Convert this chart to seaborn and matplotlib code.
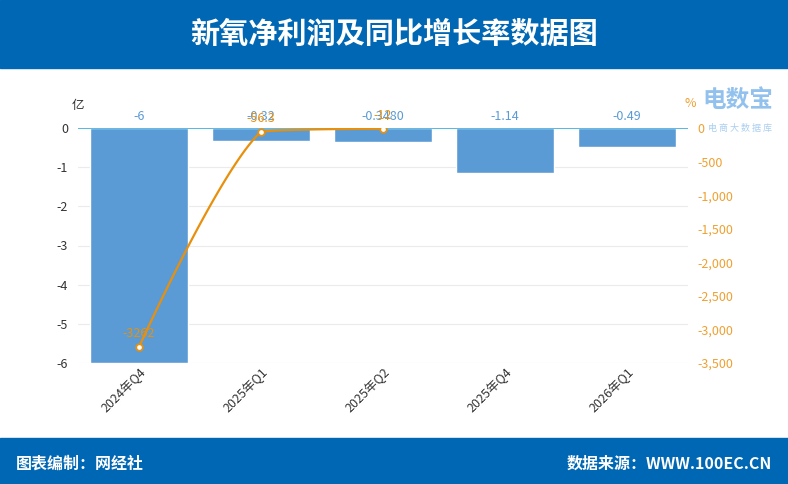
import numpy as np
import pandas as pd
import matplotlib
matplotlib.use("Agg")
import matplotlib.pyplot as plt
import seaborn as sns

# data
quarters = ["2024年Q4", "2025年Q1", "2025年Q2", "2025年Q4", "2026年Q1"]
profit = [-6, -0.32, -0.348, -1.14, -0.49]          # 亿
profit_labels = ["-6", "-0.32", "-0.3480", "-1.14", "-0.49"]
growth = [-3262, -56.3, -12, np.nan, np.nan]        # %
growth_labels = ["-3262", "-56.3", "-12", "", ""]

title = "新氧净利润及同比增长率数据图"
footer_left = "图表编制：网经社"
footer_right = "数据来源：WWW.100EC.CN"

sns.set_theme(style="white")
plt.rcParams["font.family"] = ["Noto Sans CJK SC", "DejaVu Sans"]
plt.rcParams["axes.unicode_minus"] = False

BLUE = "#5b9bd5"
ORANGE = "#e8900c"
HEAD = "#0067b4"

df = pd.DataFrame({"quarter": quarters, "profit": profit, "growth": growth})

fig = plt.figure(figsize=(7.88, 4.84), dpi=100)
# header and footer bands
fig.patches.append(plt.Rectangle((0, 1 - 68 / 484), 1, 68 / 484, transform=fig.transFigure,
                                 color=HEAD, zorder=0))
fig.patches.append(plt.Rectangle((0, 0), 1, 46 / 484, transform=fig.transFigure,
                                 color=HEAD, zorder=0))
fig.text(0.5, 1 - 34 / 484, title, color="white", fontsize=21, fontweight="heavy",
         ha="center", va="center")
fig.text(16 / 788, 20 / 484, footer_left, color="white", fontsize=11.5, fontweight="heavy",
         ha="left", va="center")
fig.text(772 / 788, 20 / 484, footer_right, color="white", fontsize=11.5, fontweight="heavy",
         ha="right", va="center")

# plot area: x 78..688, y 128..363 (pixels from top)
ax = fig.add_axes([78 / 788, 1 - 363 / 484, 610 / 788, 235 / 484])
sns.barplot(data=df, x="quarter", y="profit", color=BLUE, width=0.8, saturation=1,
            ax=ax, zorder=2)
ax.set_ylim(-6, 0)
ax.set_xlim(-0.5, 4.5)
ax.set_yticks(range(-6, 1))
ax.yaxis.grid(True, color="#ebebeb", linewidth=0.8, zorder=0)
ax.set_xlabel("")
ax.set_ylabel("")
for s in ax.spines.values():
    s.set_visible(False)
ax.axhline(0, color="#3fb0e0", linewidth=1.2, zorder=3)
ax.tick_params(axis="y", length=0, labelsize=9, colors="#333333", pad=7)
ax.tick_params(axis="x", length=0, labelsize=9, colors="#333333", pad=2)
plt.setp(ax.get_xticklabels(), rotation=45, ha="right", rotation_mode="anchor")
ax.text(0.0, 1.095, "亿", transform=ax.transAxes, fontsize=9, color="#333333",
        ha="center", va="center")
for i, lab in enumerate(profit_labels):
    ax.text(i, 0.14, lab, color=BLUE, fontsize=9, ha="center", va="bottom", zorder=5)

# growth line on right axis
ax2 = ax.twinx()
gx = np.array([i for i, g in enumerate(growth) if not np.isnan(g)], dtype=float)
gy = np.array([g for g in growth if not np.isnan(g)])

# smooth curve (bezier through the points, in pixel-like space, no overshoot)
smooth = 0.25
sx, sy = 122.0, 235.0 / 3500.0
P = np.column_stack([gx * sx, gy * sy])
n = len(P)
curve = []
for i in range(n - 1):
    p0, p1 = P[i], P[i + 1]
    c0, c1 = p0.copy(), p1.copy()
    if i > 0:
        prev = P[i - 1]
        dp, dn = np.linalg.norm(p0 - prev), np.linalg.norm(p1 - p0)
        c0 = p0 + (p1 - prev) * smooth * dn / (dp + dn)
    if i + 2 < n:
        nxt = P[i + 2]
        dp, dn = np.linalg.norm(p1 - p0), np.linalg.norm(nxt - p1)
        c1 = p1 - (nxt - p0) * smooth * dp / (dp + dn)
    lo, hi = min(p0[1], p1[1]), max(p0[1], p1[1])
    c0[1] = np.clip(c0[1], lo, hi)
    c1[1] = np.clip(c1[1], lo, hi)
    t = np.linspace(0, 1, 50)[:, None]
    curve.append((1 - t) ** 3 * p0 + 3 * (1 - t) ** 2 * t * c0
                 + 3 * (1 - t) * t ** 2 * c1 + t ** 3 * p1)
curve = np.vstack(curve)
sns.lineplot(x=curve[:, 0] / sx, y=curve[:, 1] / sy, sort=False, estimator=None,
             color=ORANGE, linewidth=1.6, ax=ax2, zorder=4)
sns.scatterplot(x=gx, y=gy, s=22, color="white", edgecolor=ORANGE, linewidth=1.3,
                ax=ax2, zorder=5)
ax2.set_ylim(-3500, 0)
ax2.set_xlim(-0.5, 4.5)
ax2.set_yticks(range(-3500, 1, 500))
ax2.yaxis.set_major_formatter(matplotlib.ticker.FuncFormatter(lambda v, p: f"{int(v):,}"))
ax2.tick_params(axis="y", length=0, labelsize=9, colors="#f0a030", pad=7)
for s in ax2.spines.values():
    s.set_visible(False)
ax2.grid(False)
ax2.set_ylabel("")
ax2.text(1.003, 1.106, "%", transform=ax2.transAxes, fontsize=9, color="#f0a030",
         ha="center", va="center")
for i, lab in enumerate(growth_labels):
    if lab:
        ax2.annotate(lab, (i, growth[i]), xytext=(0, 5), textcoords="offset points",
                     color=ORANGE, fontsize=9, ha="center", va="bottom", zorder=6)

# watermark
fig.text(702 / 788, 1 - 100 / 484, "电数宝", color="#7fb6ea", fontsize=17,
         fontweight="bold", ha="left", va="center", alpha=0.85)
fig.text(708 / 788, 1 - 128 / 484, "电 商 大 数 据 库", color="#9cc6ef", fontsize=6.5,
         ha="left", va="center", alpha=0.85)

fig.savefig("out.png", dpi=100)
